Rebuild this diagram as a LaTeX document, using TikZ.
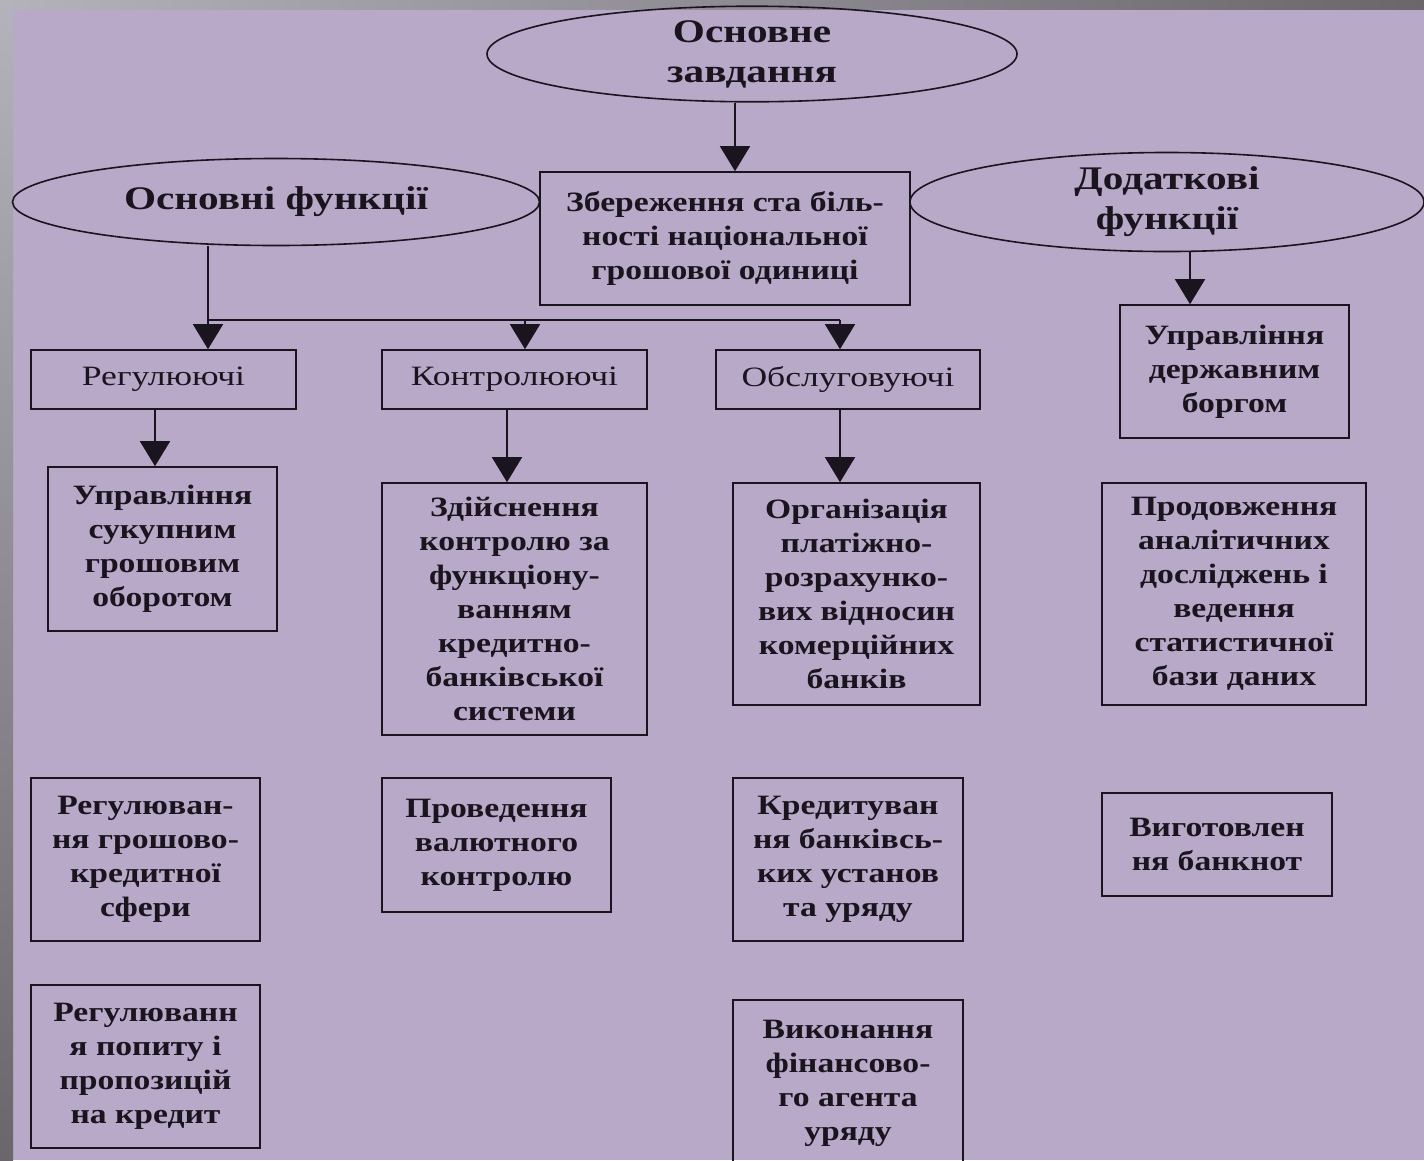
\documentclass[tikz,border=0pt]{standalone}
\usepackage{fontspec}
\setmainfont{Liberation Serif}
\newfontfamily\boxfont[FakeStretch=1.2]{Liberation Serif}
\newfontfamily\boxfontr[FakeStretch=1.27]{Liberation Serif}
\newfontfamily\ellfont[FakeStretch=1.25]{Liberation Serif}
\usetikzlibrary{shapes.geometric,arrows.meta,calc}
\definecolor{bg}{RGB}{183,169,199}
\definecolor{ink}{RGB}{25,20,30}
\definecolor{grayL}{RGB}{180,178,186}
\definecolor{grayD}{RGB}{106,102,108}
\begin{document}
\begin{tikzpicture}[x=1pt,y=-1pt,
  bx/.style={draw=ink, line width=1.6pt, align=center, inner sep=0pt, text=ink,
    font=\boxfont\fontsize{28}{34}\selectfont\bfseries},
  bxr/.style={bx, font=\boxfontr\fontsize{28}{34}\selectfont},
  ell/.style={draw=ink, line width=1.6pt, ellipse, inner sep=0pt, align=center, text=ink,
    font=\ellfont\fontsize{33}{40}\selectfont\bfseries},
  arr/.style={draw=ink, line width=1.6pt, -{Triangle[width=30pt,length=25pt]}},
  ln/.style={draw=ink, line width=1.6pt}]
\useasboundingbox (0,0) rectangle (1424,1160);
\clip (0,0) rectangle (1424,1160);
% background
\fill[bg] (0,0) rectangle (1424,1160);
\shade[left color=grayL, right color=grayD] (0,0) rectangle (1424,9);
\shade[top color=grayL, bottom color=grayD] (0,0) rectangle (13,1160);

% ellipses
\node[ell, minimum width=530pt, minimum height=87pt] (topE) at (752,54) {Основне\\завдання};
\node[ell, minimum width=527pt, minimum height=87pt] (lE) at (276,202) {Основні функції};
\node[ell, minimum width=514pt, minimum height=88pt] (rE) at (1167,202) {Додаткові\\функції};

% main box
\node[bx, minimum width=370pt, minimum height=133pt] (main) at (725,238.5)
  {Збереження ста біль-\\ності національної\\грошової одиниці};

% second level
\node[bxr, minimum width=265pt, minimum height=59pt] (reg) at (163.5,379.5) {Регулюючі};
\node[bxr, minimum width=265pt, minimum height=59pt] (kon) at (514.5,379.5) {Контролюючі};
\node[bxr, minimum width=264pt, minimum height=59pt] (obs) at (848,379.5) {Обслуговуючі};
\node[bx, minimum width=229pt, minimum height=133pt] (upd) at (1234.5,371.5) {Управління\\державним\\боргом};

% third level
\node[bx, minimum width=229pt, minimum height=164pt] (ups) at (162.5,549) {Управління\\сукупним\\грошовим\\оборотом};
\node[bx, minimum width=265pt, minimum height=252pt] (zd) at (514.5,609) {Здійснення\\контролю за\\функціону-\\ванням\\кредитно-\\банківської\\системи};
\node[bx, minimum width=247pt, minimum height=222pt] (org) at (856.5,594) {Організація\\платіжно-\\розрахунко-\\вих відносин\\комерційних\\банків};
\node[bx, minimum width=264pt, minimum height=222pt] (prod) at (1234,594) {Продовження\\аналітичних\\досліджень і\\ведення\\статистичної\\бази даних};

% fourth level
\node[bx, minimum width=229pt, minimum height=163pt] (rgk) at (145.5,859.5) {Регулюван-\\ня грошово-\\кредитної\\сфери};
\node[bx, minimum width=229pt, minimum height=134pt] (prv) at (496.5,845) {Проведення\\валютного\\контролю};
\node[bx, minimum width=230pt, minimum height=163pt] (kred) at (848,859.5) {Кредитуван\\ня банківсь-\\ких установ\\та уряду};
\node[bx, minimum width=230pt, minimum height=103pt] (vyg) at (1217,844.5) {Виготовлен\\ня банкнот};

% fifth level
\node[bx, minimum width=229pt, minimum height=163pt] (rpp) at (145.5,1066.5) {Регулюванн\\я попиту і\\пропозицій\\на кредит};
\node[bx, minimum width=230pt, minimum height=166pt] (vyk) at (848,1083) {Виконання\\фінансово-\\го агента\\уряду};

% connectors
\coordinate (a0) at ([xshift=10pt]main.north);
\draw[arr] (a0 |- topE.south) -- (a0);

\coordinate (j) at (0,320);
\coordinate (a1) at ([xshift=44.5pt]reg.north);
\coordinate (a2) at ([xshift=10.5pt]kon.north);
\coordinate (a3) at ([xshift=-8pt]obs.north);
\draw[ln] (a1 |- lE.south) -- (a1 |- j) -- (a3 |- j);
\draw[arr] (a1 |- j) -- (a1);
\draw[arr] (a2 |- j) -- (a2);
\draw[arr] (a3 |- j) -- (a3);

\coordinate (b1) at ([xshift=-8.5pt]reg.south);
\draw[arr] (b1) -- (b1 |- ups.north);
\coordinate (b2) at ([xshift=-7.5pt]kon.south);
\draw[arr] (b2) -- (b2 |- zd.north);
\coordinate (b3) at ([xshift=-8pt]obs.south);
\draw[arr] (b3) -- (b3 |- org.north);

\coordinate (c1) at ([xshift=-44.5pt]upd.north);
\draw[arr] (c1 |- rE.south) -- (c1);
\end{tikzpicture}
\end{document}
